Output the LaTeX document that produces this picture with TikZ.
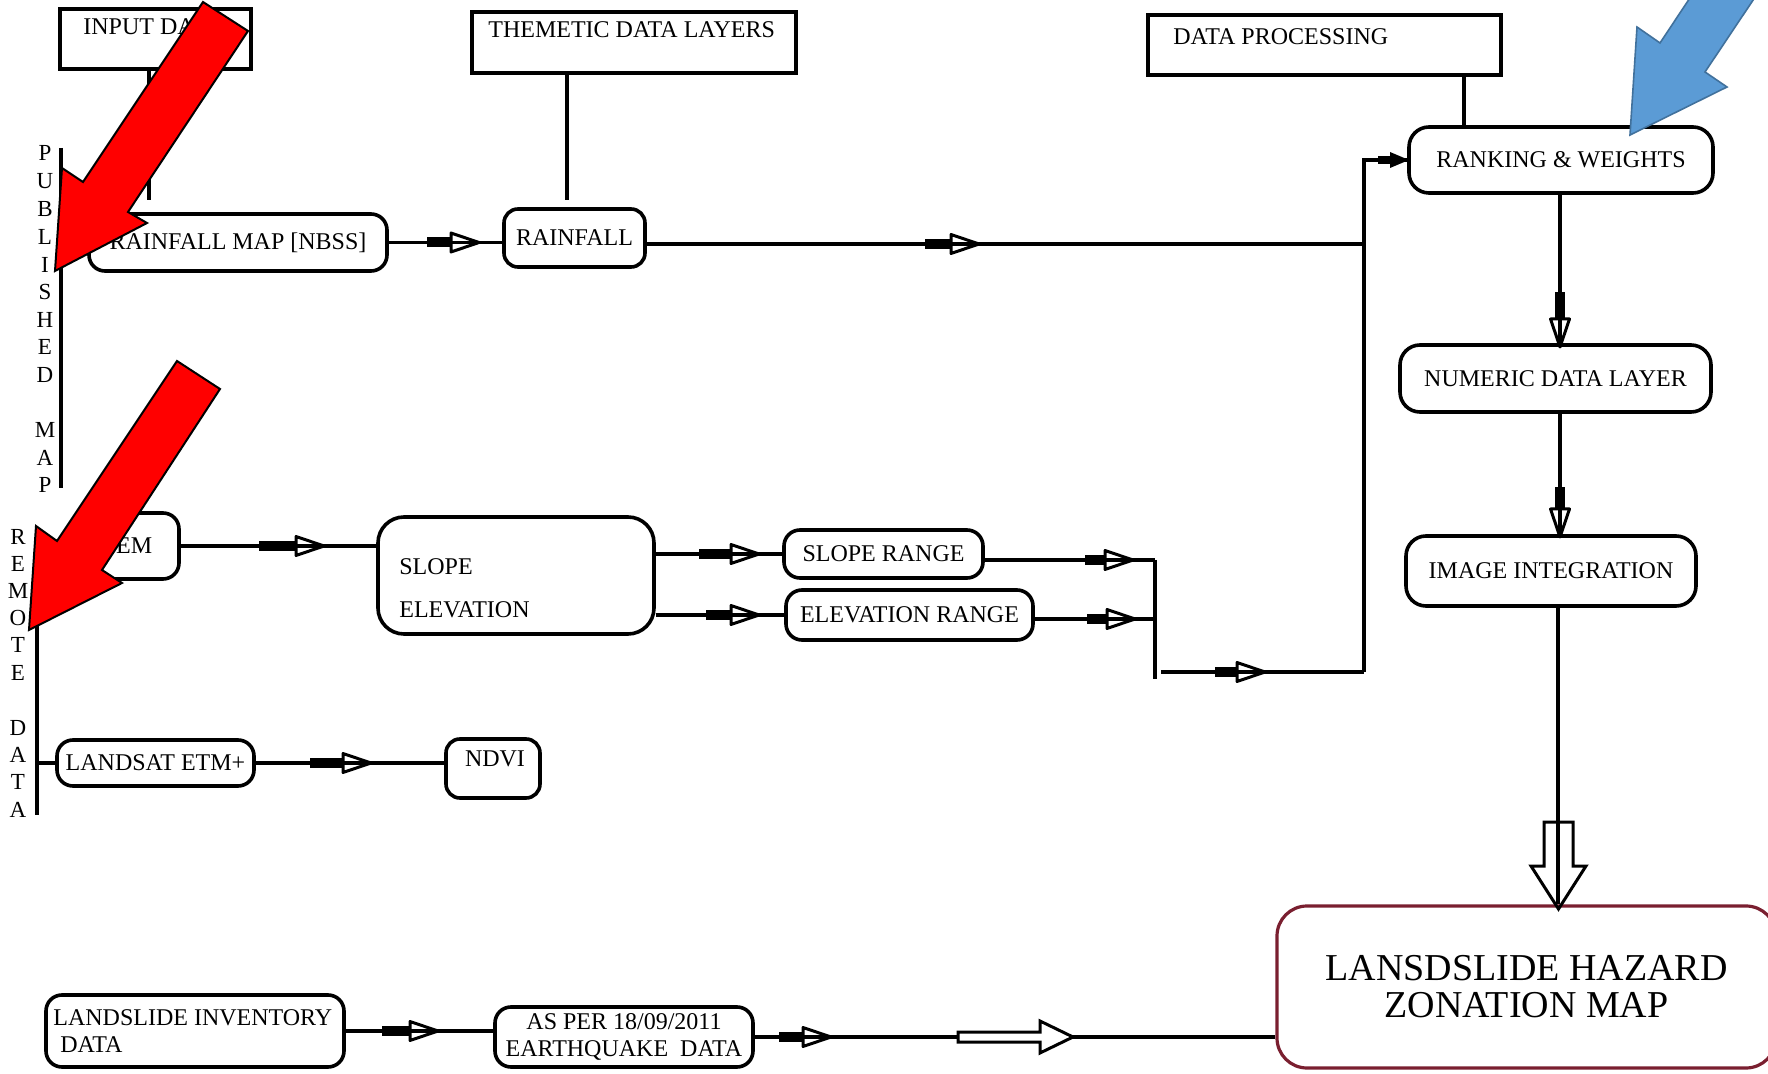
\documentclass[tikz,border=0pt]{standalone}
\usepackage{fontspec}
\setmainfont{Liberation Serif}
\newcommand\lblf{\fontsize{12}{14}\selectfont}
\newcommand\vlf{\fontsize{11.5}{12}\selectfont}
\newcommand\hzf{\fontsize{19}{18.5}\selectfont}
\definecolor{hazred}{HTML}{7A1F30}
\definecolor{arrred}{HTML}{FF0000}
\definecolor{arrblue}{HTML}{5B9BD5}
\definecolor{arrblueedge}{HTML}{41719C}
\tikzset{
  conn/.style={line width=1.8pt},
  hdr/.style={draw, line width=2pt, inner sep=0pt},
  proc/.style={draw, line width=1.8pt, rounded corners=#1, inner sep=0pt, font=\lblf, align=center},
  proc/.default=7pt,
  txt/.style={font=\lblf, inner sep=0pt},
  vl/.style={font=\vlf, inner sep=0pt},
  hollow/.style={line width=1.5pt, line join=miter},
  redarr/.style={fill=arrred, draw=black, line width=1pt, line join=miter},
  bluearr/.style={fill=arrblue, draw=arrblueedge, line width=0.8pt, line join=miter},
  pics/midarr/.style={code={
      \fill (-#1,-5) rectangle (1,5);
      \draw[line width=1.5pt, line join=round] (0,-9.5) -- (28,0) -- (0,9.5) -- cycle;}},
  pics/midarr/.default=24,
  pics/smallarr/.style={code={
      \fill (-12,-4) rectangle (1,4);
      \fill (0,-8) -- (19,0) -- (0,8) -- cycle;}}
}
\begin{document}
\begin{tikzpicture}[x=0.5pt,y=-0.5pt]
\useasboundingbox (0,0) rectangle (1768,1074);
\fill[white] (0,0) rectangle (1768,1074);
\clip (0,0) rectangle (1768,1074);

% header boxes
\node[hdr, minimum width=95.5pt, minimum height=30pt] (inp) at (155.5,39) {};
\node[txt, anchor=base west] (inpT) at (83,35) {INPUT DATA};
\node[hdr, minimum width=162pt, minimum height=30.5pt] (them) at (634,42.5) {};
\node[txt, anchor=base west] (themT) at (488,38) {THEMETIC DATA LAYERS};
\node[hdr, minimum width=176.5pt, minimum height=30pt] (dproc) at (1324.5,45) {};
\node[txt, anchor=base west] (dprocT) at (1173,45) {DATA PROCESSING};

% process boxes
\node[proc=8pt, minimum width=149pt, minimum height=28.5pt] (rmap) at (238,242.5) {RAINFALL MAP [NBSS]};
\node[proc=7pt, minimum width=70.5pt, minimum height=29pt] (rain) at (574.5,238) {RAINFALL};
\node[proc=10pt, minimum width=152pt, minimum height=33pt] (rank) at (1561,160) {RANKING \& WEIGHTS};
\node[proc=10pt, minimum width=155.5pt, minimum height=33.5pt] (num) at (1555.5,378.5) {NUMERIC DATA LAYER};
\node[proc=10pt, minimum width=145pt, minimum height=35pt] (img) at (1551,571) {IMAGE INTEGRATION};
\node[proc=15pt, draw=hazred, line width=1.6pt, font=\hzf, minimum width=249.5pt, minimum height=81pt] (haz) at (1526.5,987) {LANSDSLIDE HAZARD\\ZONATION MAP};
\node[proc=8pt, minimum width=53.5pt, minimum height=33pt] (dem) at (125.5,546) {DEM};
\node[proc=13pt, minimum width=138pt, minimum height=58.5pt] (slel) at (516,575.5) {};
\node[txt, anchor=base west] (slT1) at (399,575) {SLOPE};
\node[txt, anchor=base west] (slT2) at (399,618) {ELEVATION};
\node[proc=8pt, minimum width=99.5pt, minimum height=24pt] (sr) at (883.5,554) {SLOPE RANGE};
\node[proc=8pt, minimum width=123.5pt, minimum height=25pt] (er) at (909.5,615) {ELEVATION RANGE};
\node[proc=8pt, minimum width=98.5pt, minimum height=23pt] (land) at (155.5,763) {LANDSAT ETM+};
\node[proc=7pt, minimum width=47pt, minimum height=29.5pt] (ndvi) at (493,768.5) {};
\node[txt, anchor=base] (ndviT) at (495,767) {NDVI};
\node[proc=8pt, minimum width=149pt, minimum height=36pt] (linv) at (195,1031) {};
\node[txt, anchor=west, align=left, font=\fontsize{12}{13.5}\selectfont] (linvT) at (53,1031) {LANDSLIDE INVENTORY\\\hspace*{3.5pt}DATA};
\node[proc=8pt, font=\fontsize{12}{13.5}\selectfont, minimum width=129pt, minimum height=30pt] (aseq) at (624,1037) {AS PER 18/09/2011\\EARTHQUAKE~~DATA};

% vertical letters
\foreach \l/\yy [count=\i] in {P/153,U/181,B/209,L/237,I/265,S/292,H/320,E/347,D/375,M/430,A/458,P/485}
  \node[vl] (pub\i) at (45,\yy) {\l};
\foreach \l/\yy [count=\i] in {R/537,E/564,M/591,O/618,T/645,E/673,D/728,A/755,T/782,A/810}
  \node[vl] (rem\i) at (18,\yy) {\l};

% connectors
\coordinate (inpend) at (149,200);
\draw[conn] (inp.south -| inpend) -- (inpend);
\coordinate (themend) at (567,200);
\draw[conn] (them.south -| themend) -- (themend);
\coordinate (dpx) at (1464,100);
\draw[conn] (dproc.south -| dpx) -- (rank.north -| dpx);

\coordinate (pb1) at (61,148); \coordinate (pb2) at (61,488);
\draw[conn, line width=2pt] (pb1) -- (pb2);
\coordinate (rb1) at (37,530); \coordinate (rb2) at (37,815);
\draw[conn, line width=2pt] (rb1) -- (rb2);
\draw[conn] (rb1 |- land.west) -- (land.west);

\draw[conn] (rmap.east) -- (rmap.east -| rain.west);
\pic at (451,242.5) {midarr};

\coordinate (rl) at (1364,244);
\draw[conn] (rain.east |- rl) -- (rl);
\pic at (951,244) {midarr=26};
\coordinate (vt) at (1364,160);
\coordinate (vb) at (1364,672);
\draw[conn] (vb) -- (vt) -- (rank.west);
\pic at (1390,160) {smallarr};

\coordinate (cx) at (1560,300);
\draw[conn] (rank.south -| cx) -- (num.north -| cx);
\pic[rotate=-90] at (1560,319) {midarr=27};
\draw[conn] (num.south -| cx) -- (img.north -| cx);
\pic[rotate=-90] at (1560,509) {midarr=22};
\coordinate (cx2) at (1558,800);
\draw[conn] (img.south -| cx2) -- (haz.north -| cx2);
\draw[hollow] (1544,822) -- (1573,822) -- (1573,866) -- (1586,866) -- (1558.5,909) -- (1531,866) -- (1544,866) -- cycle;

\draw[conn] (dem.east) -- (dem.east -| slel.west);
\pic at (296,546) {midarr=37};
\draw[conn] (sr.west -| slel.east) -- (sr.west);
\pic at (731,554) {midarr=32};
\draw[conn] (er.west -| slel.east) -- (er.west);
\pic at (731,615) {midarr=25};
\coordinate (j1) at (1155,560); \coordinate (j2) at (1155,619);
\coordinate (j3) at (1155,679); \coordinate (jh) at (1161,672);
\draw[conn] (sr.east |- j1) -- (j1);
\pic at (1105,560) {midarr=20};
\draw[conn] (er.east |- j2) -- (j2);
\pic at (1107,619) {midarr=20};
\draw[conn] (j1) -- (j3);
\draw[conn] (jh) -- (vb);
\pic at (1237,672) {midarr=22};

\draw[conn] (land.east) -- (land.east -| ndvi.west);
\pic at (343,763) {midarr=33};

\draw[conn] (linv.east) -- (linv.east -| aseq.west);
\pic at (410,1031) {midarr=28};
\draw[conn] (aseq.east) -- (aseq.east -| haz.west);
\pic at (803,1037) {midarr=24};
\draw[hollow, fill=white] (958,1032) -- (1040,1032) -- (1040,1021) -- (1073,1037) -- (1040,1053) -- (1040,1042) -- (958,1042) -- cycle;

% pointer arrows
\draw[redarr] (203,2) -- (248,31) -- (128,212) -- (147,223) -- (55,271) -- (62,168) -- (83,182) -- cycle;
\draw[redarr] (177,361) -- (220,389) -- (102,570) -- (122,583) -- (29,630) -- (36,526) -- (57,541) -- cycle;
\draw[bluearr] (1755,-100) -- (1660,43) -- (1637,27) -- (1630,135) -- (1727,87) -- (1705,72) -- (1820,-100) -- cycle;
\end{tikzpicture}
\end{document}
